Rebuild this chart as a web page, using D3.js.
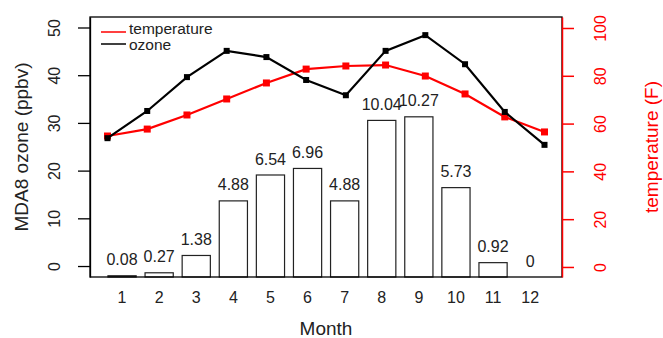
<!DOCTYPE html>
<html>
<head>
<meta charset="utf-8">
<script src="https://cdn.jsdelivr.net/npm/d3@7"></script>
<style>
  body { margin: 0; background: #fff; }
  text { font-family: "Liberation Sans", Arial, sans-serif; }
</style>
</head>
<body>
<div id="chart"></div>
<script>
// Data
const months = [1, 2, 3, 4, 5, 6, 7, 8, 9, 10, 11, 12];
const exceedDays = [0.08, 0.27, 1.38, 4.88, 6.54, 6.96, 4.88, 10.04, 10.27, 5.73, 0.92, 0];
const ozone = [26.8, 32.5, 39.6, 45.1, 43.8, 39.0, 35.8, 45.1, 48.4, 42.3, 32.3, 25.4];
const temperature = [54.8, 57.7, 63.6, 70.3, 77.0, 82.8, 84.1, 84.5, 79.9, 72.4, 62.8, 56.5];
const ozoneTicks = [0, 10, 20, 30, 40, 50];
const tempTicks = [0, 20, 40, 60, 80, 100];

const W = 663, H = 338;
const box = { left: 90, right: 562, top: 17, bottom: 277 };

const svg = d3.select("#chart")
    .append("svg")
    .attr("width", W)
    .attr("height", H);

// Scales
const xBar = d3.scaleBand()
    .domain(months)
    .range([103.5, 548.7])
    .paddingInner(0.24)
    .paddingOuter(0.12);

const yBar = d3.scaleLinear().domain([0, 16.67]).range([box.bottom, box.top]);

const xLine = d3.scaleLinear().domain([1, 12]).range([107.5, 544.5]);
const yOzone = d3.scaleLinear().domain([-2.3, 52.2]).range([box.bottom, box.top]);
const yTemp = d3.scaleLinear().domain([-4.2, 104.6]).range([box.bottom, box.top]);

// Bars
svg.append("g").selectAll("rect")
    .data(exceedDays)
    .enter().append("rect")
    .attr("x", (d, i) => xBar(months[i]))
    .attr("y", d => yBar(d))
    .attr("width", xBar.bandwidth())
    .attr("height", d => yBar(0) - yBar(d))
    .attr("fill", "#fff")
    .attr("stroke", "#222")
    .attr("stroke-width", 1.2);

svg.append("g").selectAll("text")
    .data(exceedDays)
    .enter().append("text")
    .attr("x", (d, i) => xBar(months[i]) + xBar.bandwidth() / 2)
    .attr("y", d => yBar(d) - 16)
    .attr("dy", "0.35em")
    .attr("text-anchor", "middle")
    .style("font-size", "16px")
    .style("fill", "#222")
    .text(d => String(d));

// Month labels
svg.append("g").selectAll("text")
    .data(months)
    .enter().append("text")
    .attr("x", d => xBar(d) + xBar.bandwidth() / 2)
    .attr("y", 297)
    .attr("dy", "0.35em")
    .attr("text-anchor", "middle")
    .style("font-size", "16px")
    .style("fill", "#222")
    .text(d => d);

// Lines
const ozoneLine = d3.line().x((d, i) => xLine(months[i])).y(d => yOzone(d));
const tempLine = d3.line().x((d, i) => xLine(months[i])).y(d => yTemp(d));

svg.append("path")
    .datum(temperature)
    .attr("d", tempLine)
    .attr("fill", "none")
    .attr("stroke", "#ff0000")
    .attr("stroke-width", 2.2);

svg.append("g").selectAll("rect")
    .data(temperature)
    .enter().append("rect")
    .attr("x", (d, i) => xLine(months[i]) - 3.5)
    .attr("y", d => yTemp(d) - 3.5)
    .attr("width", 7)
    .attr("height", 7)
    .attr("fill", "#ff0000");

svg.append("path")
    .datum(ozone)
    .attr("d", ozoneLine)
    .attr("fill", "none")
    .attr("stroke", "#000")
    .attr("stroke-width", 2.2);

svg.append("g").selectAll("rect")
    .data(ozone)
    .enter().append("rect")
    .attr("x", (d, i) => xLine(months[i]) - 3)
    .attr("y", d => yOzone(d) - 3)
    .attr("width", 6)
    .attr("height", 6)
    .attr("fill", "#000");

// Box
svg.append("rect")
    .attr("x", box.left)
    .attr("y", box.top)
    .attr("width", box.right - box.left)
    .attr("height", box.bottom - box.top)
    .attr("fill", "none")
    .attr("stroke", "#000")
    .attr("stroke-width", 1.3);

// Left axis
const leftAxis = svg.append("g")
    .attr("transform", `translate(${box.left},0)`)
    .call(d3.axisLeft(yOzone).tickValues(ozoneTicks).tickSize(12).tickSizeOuter(0));
leftAxis.select(".domain").attr("stroke", "#000").attr("stroke-width", 1.3);
leftAxis.selectAll(".tick line").attr("stroke", "#000").attr("stroke-width", 1.3);
leftAxis.selectAll(".tick text")
    .attr("x", 0).attr("y", 0).attr("dy", "0.35em")
    .attr("transform", "translate(-36,0) rotate(-90)")
    .attr("text-anchor", "middle")
    .style("font-size", "16px")
    .style("font-family", "Liberation Sans, Arial, sans-serif")
    .attr("fill", "#222");

// Right axis
const rightAxis = svg.append("g")
    .attr("transform", `translate(${box.right},0)`)
    .call(d3.axisRight(yTemp).tickValues(tempTicks).tickSize(12).tickSizeOuter(0));
rightAxis.select(".domain").attr("stroke", "#ff0000").attr("stroke-width", 1.5);
rightAxis.selectAll(".tick line").attr("stroke", "#ff0000").attr("stroke-width", 1.5);
rightAxis.selectAll(".tick text")
    .attr("x", 0).attr("y", 0).attr("dy", "0.35em")
    .attr("transform", "translate(38,0) rotate(-90)")
    .attr("text-anchor", "middle")
    .style("font-size", "16px")
    .style("font-family", "Liberation Sans, Arial, sans-serif")
    .attr("fill", "#ff0000");

// Axis titles
const midY = (box.top + box.bottom) / 2;
svg.append("text")
    .attr("transform", `translate(21,${midY}) rotate(-90)`)
    .attr("dy", "0.35em")
    .attr("text-anchor", "middle")
    .style("font-size", "19px")
    .style("fill", "#222")
    .text("MDA8 ozone (ppbv)");

svg.append("text")
    .attr("transform", `translate(651,${midY}) rotate(-90)`)
    .attr("dy", "0.35em")
    .attr("text-anchor", "middle")
    .style("font-size", "19px")
    .style("fill", "#ff0000")
    .text("temperature (F)");

svg.append("text")
    .attr("x", (box.left + box.right) / 2)
    .attr("y", 328)
    .attr("dy", "0.35em")
    .attr("text-anchor", "middle")
    .style("font-size", "19px")
    .style("fill", "#222")
    .text("Month");

// Legend
const legendItems = [
    { label: "temperature", color: "#ff0000", y: 32, ty: 34 },
    { label: "ozone", color: "#000", y: 44, ty: 50 }
];
const legend = svg.append("g").selectAll("g")
    .data(legendItems)
    .enter().append("g");
legend.append("line")
    .attr("x1", 101).attr("x2", 126)
    .attr("y1", d => d.y).attr("y2", d => d.y)
    .attr("stroke", d => d.color)
    .attr("stroke-width", 1.5);
legend.append("text")
    .attr("x", 129)
    .attr("y", d => d.ty)
    .style("font-size", "15.5px")
    .style("fill", "#222")
    .text(d => d.label);
</script>
</body>
</html>
